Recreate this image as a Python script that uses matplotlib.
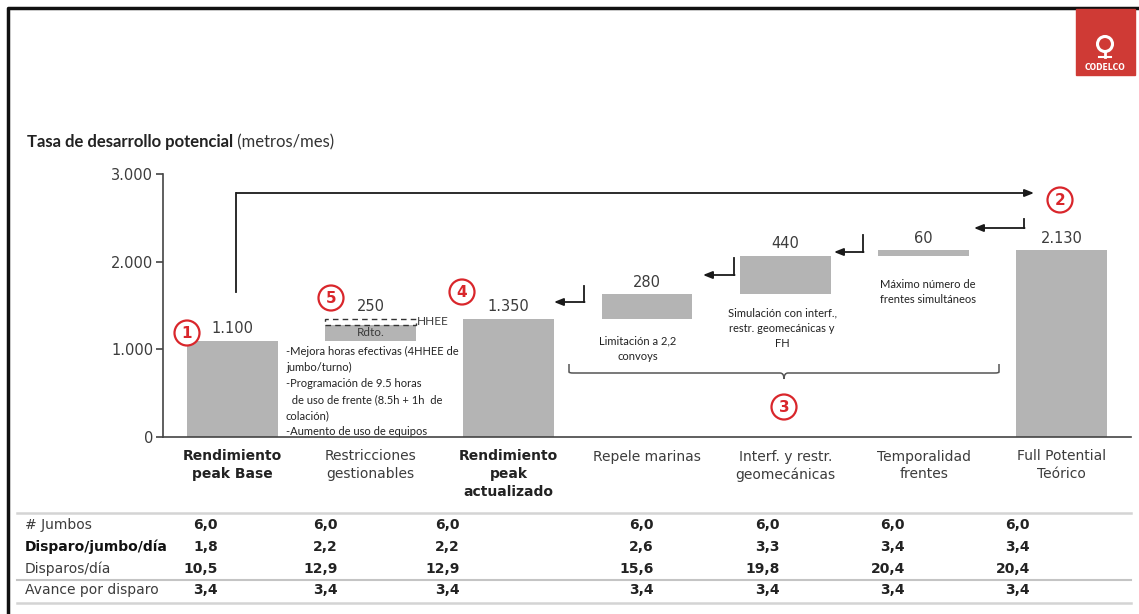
import matplotlib

matplotlib.use("Agg")
import matplotlib.pyplot as plt
from matplotlib.patches import Circle, Rectangle
from matplotlib.path import Path
from matplotlib.patches import PathPatch
import numpy as np

W, H = 1139, 614

categories = [
    "Rendimiento\npeak Base",
    "Restricciones\ngestionables",
    "Rendimiento\npeak\nactualizado",
    "Repele marinas",
    "Interf. y restr.\ngeomecánicas",
    "Temporalidad\nfrentes",
    "Full Potential\nTeórico",
]
values = [1100, 250, 1350, 280, 440, 60, 2130]
is_total = [True, False, True, False, False, False, True]
bold_labels = [True, False, True, False, False, False, False]

# split of the "Restricciones gestionables" step
rdto_part = 180
hhee_part = 70

row_labels = ["# Jumbos", "Disparo/jumbo/día", "Disparos/día", "Avance por disparo"]
jumbos = [6.0, 6.0, 6.0, 6.0, 6.0, 6.0, 6.0]
disparo_jumbo_dia = [1.8, 2.2, 2.2, 2.6, 3.3, 3.4, 3.4]
disparos_dia = [10.5, 12.9, 12.9, 15.6, 19.8, 20.4, 20.4]
avance_disparo = [3.4, 3.4, 3.4, 3.4, 3.4, 3.4, 3.4]

BAR = "#b4b4b4"
TXT = "#3c3c3c"
RED = "#d9262b"


def fmt_thousands(v):
    return f"{v:,.0f}".replace(",", ".")


def fmt_dec(v):
    return f"{v:.1f}".replace(".", ",")


fig = plt.figure(figsize=(W / 100, H / 100), dpi=100)
fig.patch.set_facecolor("white")

# main waterfall axes (pixel box 163..1131 x, 150..437 y)
ax = fig.add_axes([163 / W, 1 - 437 / H, 968 / W, (437 - 150) / H])
ymax = 3000 * (437 - 150) / (437 - 174)
ax.set_xlim(-0.5, 6.5)
ax.set_ylim(0, ymax)

x = np.arange(len(categories))
bottoms = []
running = 0
for v, tot in zip(values, is_total):
    if tot:
        bottoms.append(0)
        running = v
    else:
        bottoms.append(running)
        running += v

bw = 0.657
for i, (v, b, tot) in enumerate(zip(values, bottoms, is_total)):
    if i == 1:
        ax.bar(i, rdto_part, bottom=b, width=bw, color=BAR, linewidth=0)
        ax.bar(i, hhee_part, bottom=b + rdto_part, width=bw, fill=False,
               edgecolor="#333333", linestyle=(0, (4, 3)), linewidth=1.0)
        ax.text(i, b + rdto_part / 2, "Rdto.", ha="center", va="center",
                fontsize=8.5, color=TXT, family="Lato")
        ax.text(i + bw / 2 + 0.01, b + rdto_part + hhee_part / 2, "HHEE",
                ha="left", va="center", fontsize=8.5, color=TXT, family="Lato")
    else:
        ax.bar(i, v, bottom=b, width=bw, color=BAR, linewidth=0)
    ax.annotate(fmt_thousands(v), (i, b + v), xytext=(0, 3), textcoords="offset points",
                ha="center", va="bottom", fontsize=10.5, color=TXT)

for s in ["top", "right"]:
    ax.spines[s].set_visible(False)
ax.spines["left"].set_bounds(0, 3000)
ax.spines["left"].set_color("#444444")
ax.spines["bottom"].set_color("#444444")
ax.spines["left"].set_linewidth(1.2)
ax.spines["bottom"].set_linewidth(1.2)
ax.set_yticks([0, 1000, 2000, 3000])
ax.set_yticklabels([fmt_thousands(t) for t in [0, 1000, 2000, 3000]])
ax.tick_params(axis="y", length=5, width=1.2, color="#444444", labelsize=10.5,
               labelcolor=TXT, pad=2)
ax.set_xticks(x)
ax.set_xticklabels(categories, fontsize=10, color=TXT, linespacing=1.35)
ax.tick_params(axis="x", length=0, pad=9)
for lab, b in zip(ax.get_xticklabels(), bold_labels):
    if b:
        lab.set_fontweight("bold")
        lab.set_color("#222222")

# overlay in pixel coordinates for frame, notes, arrows and the table
ov = fig.add_axes([0, 0, 1, 1], zorder=5)
ov.set_xlim(0, W)
ov.set_ylim(H, 0)
ov.axis("off")
ov.patch.set_alpha(0)

ov.plot([8, 8, W], [H, 8, 8], color="#111111", lw=2.5, solid_capstyle="butt")

# logo
ov.add_patch(Rectangle((1076, 9), 59, 66, color="#cf3a35", zorder=6))
ov.add_patch(Circle((1105, 44), 7.5, fill=False, edgecolor="white", lw=2.2, zorder=7))
ov.plot([1105, 1105], [51, 57], color="white", lw=2, zorder=7)
ov.plot([1099, 1111], [57, 57], color="white", lw=1.5, zorder=7)
ov.text(1105, 67, "CODELCO", ha="center", va="center", fontsize=5.5, color="white",
        fontweight="bold", zorder=7)

# title: bold part followed by the unit
t1 = ov.text(27, 142, "Tasa de desarrollo potencial", ha="left", va="center",
             fontsize=12, fontweight="bold", color="#222222", family="Lato")
ov.annotate(" (metros/mes)", xy=(1, 0.5), xycoords=t1, ha="left", va="center",
            fontsize=12, color="#333333", family="Lato")

LK = dict(color="#1a1a1a", lw=1.3)


def elbow(x0, y0, y1, x1):
    ov.plot([x0, x0], [y0, y1], **LK)
    ov.annotate("", xy=(x1, y1), xytext=(x0 + 0.6, y1),
                arrowprops=dict(arrowstyle="-|>,head_length=0.55,head_width=0.22",
                                color="#1a1a1a", lw=1.3, shrinkA=0, shrinkB=0))


ov.plot([236, 236], [292, 193], **LK)
elbow(236, 193, 193, 1034)
elbow(1024, 219, 228, 974)
elbow(863, 235, 252, 834)
elbow(734, 258, 275, 703)
elbow(584, 286, 302, 554)

# brace under the three step bars
verts = [(569, 364), (569, 372), (569, 373), (573, 373),
         (780, 373), (784, 373), (784, 379), (784, 373),
         (788, 373), (995, 373), (999, 373), (999, 372), (999, 364)]
codes = [Path.MOVETO, Path.LINETO, Path.CURVE3, Path.CURVE3,
         Path.LINETO, Path.CURVE3, Path.CURVE3, Path.CURVE3,
         Path.CURVE3, Path.LINETO, Path.CURVE3, Path.CURVE3, Path.LINETO]
ov.add_patch(PathPatch(Path(verts, codes), fill=False, edgecolor="#555555", lw=1.1))

# numbered markers
for n, (cx, cy) in zip(["1", "2", "3", "4", "5"],
                       [(187, 333), (1060, 200), (784, 407), (462, 292), (331, 298)]):
    ov.add_patch(Circle((cx, cy), 12.5, facecolor="white", edgecolor=RED, lw=1.6, zorder=6))
    ov.text(cx, cy + 0.5, n, ha="center", va="center", fontsize=11, fontweight="bold",
            color=RED, zorder=7)

NOTE = dict(fontsize=8, color="#222222", family="Lato")
ov.text(286, 346, "-Mejora horas efectivas (4HHEE de\njumbo/turno)\n-Programación de 9.5 horas\n"
        "  de uso de frente (8.5h + 1h  de\ncolación)\n-Aumento de uso de equipos",
        ha="left", va="top", linespacing=1.55, **NOTE)
ov.text(638, 349, "Limitación a 2,2\nconvoys", ha="center", va="center", linespacing=1.5, **NOTE)
ov.text(782, 328, "Simulación con interf.,\nrestr. geomecánicas y\nFH", ha="center", va="center",
        linespacing=1.5, **NOTE)
ov.text(928, 292, "Máximo número de\nfrentes simultáneos", ha="center", va="center",
        linespacing=1.5, **NOTE)

# summary table
ov.plot([17, 1131], [513, 513], color="#d4d4d4", lw=1.8)
ov.plot([17, 1131], [580, 580], color="#c4c4c4", lw=1.5)
ov.plot([17, 1131], [603, 603], color="#d4d4d4", lw=1.8)
col_right = [218, 338, 460, 654, 780, 905, 1030]
row_y = [525, 547, 569, 590]
rows = [jumbos, disparo_jumbo_dia, disparos_dia, avance_disparo]
for label, vals, ry in zip(row_labels, rows, row_y):
    bold = label == "Disparo/jumbo/día"
    ov.text(25, ry, label, ha="left", va="center", fontsize=10,
            fontweight="bold" if bold else "normal", color="#111111" if bold else TXT)
    for cx, v in zip(col_right, vals):
        ov.text(cx, ry, fmt_dec(v), ha="right", va="center", fontsize=10,
                fontweight="bold", color="#222222")

fig.savefig("out.png", dpi=100)
